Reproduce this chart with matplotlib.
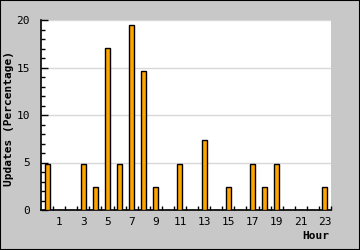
import matplotlib
matplotlib.use("Agg")
import matplotlib.pyplot as plt
from matplotlib.ticker import MultipleLocator, FixedLocator
from matplotlib.patches import Rectangle

hours = list(range(24))
values = [4.88, 0, 0, 4.88, 2.44, 17.07, 4.88, 19.51, 14.63, 2.44, 0, 4.88,
          0, 7.32, 0, 2.44, 0, 4.88, 2.44, 4.88, 0, 0, 0, 2.44]
tick_labels = [str(h) if h % 2 == 1 else "" for h in hours]

plt.rcParams['font.family'] = ['DejaVu Sans Mono']
fig = plt.figure(figsize=(3.6, 2.5), dpi=100, facecolor='#c8c8c8')
fig.patches.append(Rectangle((0, 0), 1, 1, transform=fig.transFigure, fill=False,
                             edgecolor='black', linewidth=1.5))
ax = fig.add_axes([41/360, 40/250, 290/360, 190/250])
ax.set_facecolor('white')
ax.bar(hours, values, width=0.42, color='#ffa500', edgecolor='black', linewidth=1, zorder=3)
ax.set_xlim(-0.5, 23.5)
ax.set_ylim(0, 20)
for s in ['top', 'right']:
    ax.spines[s].set_visible(False)
ax.spines['left'].set_linewidth(1.2)
ax.spines['bottom'].set_linewidth(1.2)
ax.yaxis.set_major_locator(MultipleLocator(5))
ax.yaxis.set_minor_locator(MultipleLocator(1))
ax.grid(axis='y', which='major', color='#d8d8d8', linewidth=1, zorder=0)
ax.tick_params(axis='y', which='major', direction='in', length=5, width=1, labelsize=8, pad=8)
ax.tick_params(axis='y', which='minor', direction='in', length=3, width=1)
ax.set_xticks(hours)
ax.set_xticklabels(tick_labels)
ax.xaxis.set_minor_locator(FixedLocator([h + 0.5 for h in hours]))
ax.tick_params(axis='x', which='major', length=0, labelsize=8, pad=5)
ax.tick_params(axis='x', which='minor', direction='in', length=3, width=1)
fig.text(9/360, 1 - 118/250, 'Updates (Percentage)', fontsize=8, fontweight='bold',
         rotation=90, ha='center', va='center')
fig.text(329/360, 1 - 236/250, 'Hour', fontsize=8, fontweight='bold', ha='right', va='center')
fig.savefig('out.png', dpi=100, facecolor=fig.get_facecolor())
